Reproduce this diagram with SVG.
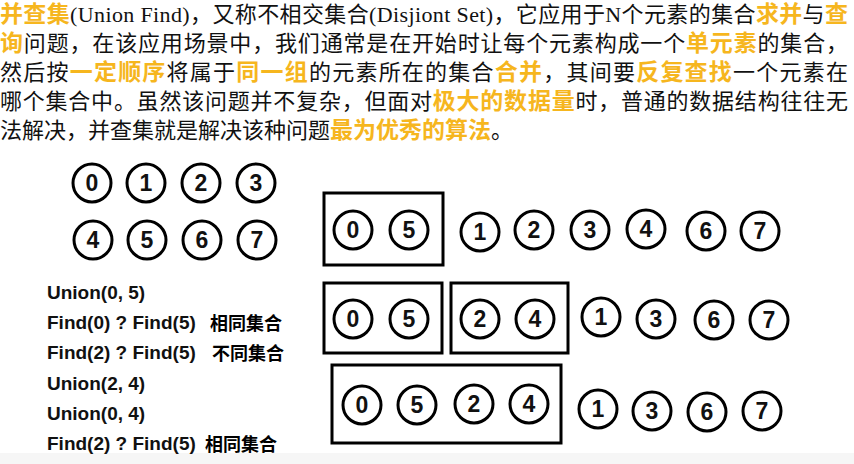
<svg xmlns="http://www.w3.org/2000/svg" width="854" height="464" viewBox="0 0 854 464">
<style>
.p{font-family:"Noto Sans CJK SC","Noto Sans",sans-serif;font-size:22px;fill:#111}
.o{fill:#F6B61E;font-size:23px;font-weight:bold}
.t{font-family:"Liberation Serif","Noto Sans CJK SC",serif}
.n circle{fill:#fff;stroke:#000;stroke-width:3}
.n text{font-family:"Liberation Sans",sans-serif;font-weight:bold;font-size:23px;text-anchor:middle;fill:#111}
.box{fill:none;stroke:#000;stroke-width:3}
.op{font-family:"Liberation Sans","Noto Sans CJK SC",sans-serif;font-weight:bold;font-size:19px;fill:#111}
.cj{font-family:"Noto Sans CJK SC",sans-serif;font-weight:bold;font-size:18px}
</style>
<rect width="854" height="464" fill="#fff"/>
<rect x="0" y="453" width="854" height="11" fill="#f6f6f6"/>
<g id="intro">
<text class="p" x="0" y="22" textLength="848" lengthAdjust="spacing"><tspan class="o">并查集</tspan><tspan class="t">(Union Find)</tspan>，又称不相交集合<tspan class="t">(Disjiont Set)</tspan>，它应用于<tspan class="t">N</tspan>个元素的集合<tspan class="o">求并</tspan>与<tspan class="o">查</tspan></text>
<text class="p" x="0" y="51" textLength="848" lengthAdjust="spacing"><tspan class="o">询</tspan>问题，在该应用场景中，我们通常是在开始时让每个元素构成一个<tspan class="o">单元素</tspan>的集合，</text>
<text class="p" x="0" y="80" textLength="848" lengthAdjust="spacing">然后按<tspan class="o">一定顺序</tspan>将属于<tspan class="o">同一组</tspan>的元素所在的集合<tspan class="o">合并</tspan>，其间要<tspan class="o">反复查找</tspan>一个元素在</text>
<text class="p" x="0" y="109" textLength="848" lengthAdjust="spacing">哪个集合中。虽然该问题并不复杂，但面对<tspan class="o">极大的数据量</tspan>时，普通的数据结构往往无</text>
<text class="p" x="0" y="138">法解决，并查集就是解决该种问题<tspan class="o">最为优秀的算法</tspan>。</text>
</g>
<g id="initial">
<g id="i0" class="n"><circle cx="92" cy="183" r="19"/><text x="92" y="191">0</text></g>
<g id="i1" class="n"><circle cx="146" cy="183" r="19"/><text x="146" y="191">1</text></g>
<g id="i2" class="n"><circle cx="201" cy="183" r="19"/><text x="201" y="191">2</text></g>
<g id="i3" class="n"><circle cx="256" cy="183" r="19"/><text x="256" y="191">3</text></g>
<g id="i4" class="n"><circle cx="93" cy="240" r="19"/><text x="93" y="248">4</text></g>
<g id="i5" class="n"><circle cx="147" cy="240" r="19"/><text x="147" y="248">5</text></g>
<g id="i6" class="n"><circle cx="202" cy="240" r="19"/><text x="202" y="248">6</text></g>
<g id="i7" class="n"><circle cx="257" cy="240" r="19"/><text x="257" y="248">7</text></g>
</g>
<g id="ops">
<text class="op" x="47" y="299">Union(0, 5)</text>
<text class="op" x="47" y="329">Find(0) ? Find(5)</text><text class="cj" x="210" y="330">相同集合</text>
<text class="op" x="47" y="359">Find(2) ? Find(5)</text><text class="cj" x="212" y="360">不同集合</text>
<text class="op" x="47" y="390">Union(2, 4)</text>
<text class="op" x="47" y="420">Union(0, 4)</text>
<text class="op" x="47" y="450">Find(2) ? Find(5)</text><text class="cj" x="205" y="451">相同集合</text>
</g>
<g id="row1">
<rect class="box" x="324" y="193" width="119" height="72"/>
<g class="n"><circle cx="353" cy="230" r="19"/><text x="353" y="238">0</text></g>
<g class="n"><circle cx="409" cy="230" r="19"/><text x="409" y="238">5</text></g>
<g class="n"><circle cx="480" cy="232" r="19"/><text x="480" y="240">1</text></g>
<g class="n"><circle cx="534" cy="230" r="19"/><text x="534" y="238">2</text></g>
<g class="n"><circle cx="590" cy="230" r="19"/><text x="590" y="238">3</text></g>
<g class="n"><circle cx="646" cy="229" r="19"/><text x="646" y="237">4</text></g>
<g class="n"><circle cx="706" cy="231" r="19"/><text x="706" y="239">6</text></g>
<g class="n"><circle cx="760" cy="231" r="19"/><text x="760" y="239">7</text></g>
</g>
<g id="row2">
<rect class="box" x="324" y="283" width="118" height="70"/>
<rect class="box" x="451" y="283" width="117" height="70"/>
<g class="n"><circle cx="353" cy="319" r="19"/><text x="353" y="327">0</text></g>
<g class="n"><circle cx="409" cy="319" r="19"/><text x="409" y="327">5</text></g>
<g class="n"><circle cx="480" cy="319" r="19"/><text x="480" y="327">2</text></g>
<g class="n"><circle cx="535" cy="319" r="19"/><text x="535" y="327">4</text></g>
<g class="n"><circle cx="601" cy="317" r="19"/><text x="601" y="325">1</text></g>
<g class="n"><circle cx="656" cy="319" r="19"/><text x="656" y="327">3</text></g>
<g class="n"><circle cx="714" cy="320" r="19"/><text x="714" y="328">6</text></g>
<g class="n"><circle cx="769" cy="320" r="19"/><text x="769" y="328">7</text></g>
</g>
<g id="row3">
<rect class="box" x="332" y="365" width="229" height="78"/>
<g class="n"><circle cx="362" cy="405" r="19"/><text x="362" y="413">0</text></g>
<g class="n"><circle cx="417" cy="405" r="19"/><text x="417" y="413">5</text></g>
<g class="n"><circle cx="474" cy="404" r="19"/><text x="474" y="412">2</text></g>
<g class="n"><circle cx="529" cy="404" r="19"/><text x="529" y="412">4</text></g>
<g class="n"><circle cx="598" cy="409" r="19"/><text x="598" y="417">1</text></g>
<g class="n"><circle cx="652" cy="411" r="19"/><text x="652" y="419">3</text></g>
<g class="n"><circle cx="707" cy="412" r="19"/><text x="707" y="420">6</text></g>
<g class="n"><circle cx="762" cy="411" r="19"/><text x="762" y="419">7</text></g>
</g>
</svg>
